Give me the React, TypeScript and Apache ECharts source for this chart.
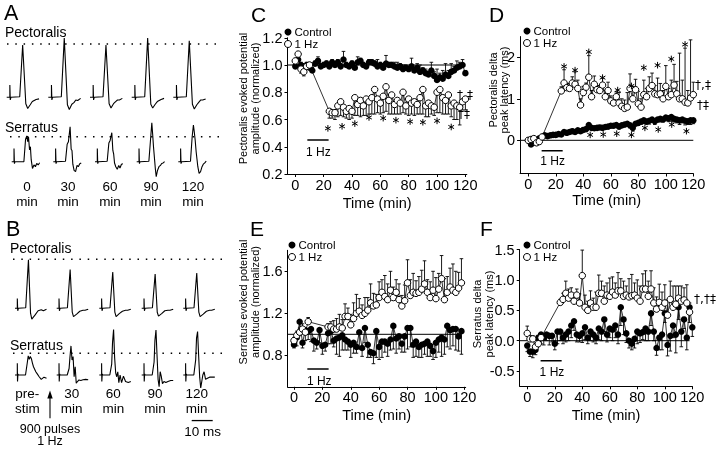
import React, { useEffect, useRef } from "react";
import * as echarts from "echarts";

const FONT = "'Liberation Sans', Arial, Helvetica, sans-serif";
const SYMFONT = "'DejaVu Sans', 'Liberation Sans', sans-serif";

function seq(start: number, end: number, step: number): number[] {
  const out: number[] = [];
  for (let t = start; t <= end + 1e-9; t += step) out.push(Math.round(t * 100) / 100);
  return out;
}

// ---------------- time bases (min) ----------------
const timesFull = seq(0, 120, 2); // 61
const timesE = seq(0, 118, 2); // 60
const timesPre = [0, 2, 4, 6, 8, 10];
const timesPost = seq(24, 120, 2); // 49
const timesPostEF = seq(24, 118, 2); // 48
const xTicks = [0, 20, 40, 60, 80, 100, 120];

// ---------------- panel C: pectoralis amplitude ----------------
const cCtrl = [0.99,1.04,1.00,0.99,1.00,0.98,0.96,1.01,1.03,0.99,1.00,1.01,0.99,1.02,1.00,1.02,0.99,1.04,1.00,0.99,1.01,0.98,1.02,1.03,1.00,0.99,1.02,1.02,1.01,0.99,1.00,0.98,1.01,1.00,1.00,0.99,0.98,0.99,0.97,0.98,0.97,0.99,0.96,0.98,0.95,0.96,0.94,0.93,0.96,0.92,0.89,0.91,0.90,0.93,0.92,0.95,0.96,0.98,0.99,1.00,0.94];
const cCtrlErr = [0.03,0.02,0.02,0.02,0.02,0.02,0.02,0.02,0.03,0.02,0.02,0.02,0.02,0.02,0.02,0.02,0.02,0.06,0.02,0.02,0.02,0.02,0.04,0.02,0.02,0.02,0.02,0.02,0.02,0.05,0.02,0.03,0.06,0.02,0.02,0.03,0.04,0.02,0.03,0.02,0.02,0.06,0.02,0.03,0.05,0.02,0.03,0.02,0.06,0.03,0.08,0.03,0.06,0.08,0.04,0.06,0.03,0.05,0.03,0.04,0.02];
const cHzPre = [1.03,1.08,0.97,0.95,0.99,1.00];
const cHzPreErr = [0.03,0.02,0.03,0.03,0.02,0.02];
const cHzPost = [0.66,0.65,0.65,0.70,0.73,0.69,0.66,0.68,0.66,0.76,0.71,0.74,0.70,0.75,0.73,0.76,0.82,0.75,0.72,0.77,0.84,0.74,0.78,0.71,0.74,0.72,0.80,0.70,0.75,0.72,0.73,0.71,0.76,0.82,0.70,0.72,0.70,0.69,0.80,0.82,0.76,0.74,0.78,0.70,0.72,0.70,0.69,0.73,0.75];
const cHzPostErr = [0.05,0.04,0.05,0.08,0.10,0.07,0.05,0.08,0.05,0.13,0.08,0.12,0.07,0.12,0.09,0.12,0.18,0.10,0.08,0.12,0.18,0.10,0.14,0.07,0.10,0.08,0.15,0.06,0.12,0.08,0.10,0.07,0.12,0.18,0.08,0.10,0.06,0.06,0.15,0.17,0.12,0.10,0.14,0.08,0.12,0.10,0.13,0.06,0.08];
const cStarX = [23,33,42,52,62,71,81,90,100,110];
const cStarY = [0.535,0.55,0.57,0.615,0.61,0.595,0.585,0.58,0.59,0.545];

// ---------------- panel D: pectoralis latency ----------------
const dCtrl = [0.00,-0.10,-0.05,0.02,0.05,0.08,0.12,0.10,0.12,0.13,0.13,0.15,0.14,0.20,0.18,0.20,0.22,0.20,0.24,0.22,0.25,0.27,0.37,0.30,0.29,0.30,0.31,0.30,0.32,0.33,0.35,0.35,0.37,0.33,0.36,0.38,0.40,0.36,0.30,0.40,0.42,0.45,0.48,0.45,0.47,0.50,0.46,0.50,0.52,0.50,0.55,0.53,0.56,0.52,0.50,0.48,0.50,0.47,0.46,0.48,0.48];
const dCtrlErr = [0.03,0.05,0.03,0.03,0.03,0.03,0.03,0.03,0.03,0.03,0.03,0.04,0.03,0.04,0.03,0.04,0.03,0.04,0.04,0.04,0.04,0.04,0.06,0.04,0.04,0.04,0.05,0.04,0.05,0.04,0.05,0.05,0.05,0.05,0.05,0.06,0.05,0.06,0.08,0.05,0.06,0.06,0.08,0.06,0.08,0.06,0.08,0.06,0.08,0.06,0.08,0.08,0.10,0.08,0.08,0.10,0.08,0.10,0.08,0.10,0.08];
const dHzPre = [0.00,0.02,0.04,-0.06,-0.03,0.08];
const dHzPreErr = [0.03,0.03,0.02,0.03,0.02,0.03];
const dHzPost = [1.19,1.38,1.27,1.25,1.38,1.35,1.25,0.85,1.15,1.28,1.52,1.05,1.35,1.22,1.20,1.33,1.05,1.20,0.95,0.90,1.05,0.90,0.82,0.77,0.80,1.25,1.00,1.22,0.88,0.80,1.10,1.05,1.25,1.32,1.12,1.10,1.12,1.00,1.30,1.05,1.10,1.33,1.12,1.00,1.00,0.92,0.90,1.02,1.10];
const dHzPostErr = [0.10,0.32,0.10,0.12,0.15,0.30,0.20,0.15,0.15,0.10,0.52,0.15,0.20,0.10,0.12,0.17,0.15,0.20,0.12,0.10,0.12,0.25,0.18,0.20,0.35,0.35,0.30,0.25,0.30,0.20,0.35,0.20,0.28,0.30,0.20,0.40,0.25,0.20,0.50,0.20,0.35,0.50,0.30,1.10,0.45,1.30,0.30,1.40,0.30];
const dStarHzX = [26,34,44,54,65,75,84,94,104,114];
const dStarHzY = [1.78,1.69,2.13,1.51,1.21,1.31,1.75,1.81,1.96,2.31];
const dStarCtrlX = [45,54.5,64.3,75,84.8,94.5,104.3,115];
const dStarCtrlY = [0.13,0.14,0.16,0.13,0.30,0.26,0.38,0.22];

// ---------------- panel E: serratus amplitude ----------------
const eCtrl = [0.90,0.97,1.12,0.92,1.04,1.03,1.05,0.94,0.92,1.04,0.89,0.90,1.01,1.03,0.94,0.96,0.97,0.99,0.95,0.93,0.90,0.92,0.88,1.02,0.87,1.06,0.90,0.83,0.82,1.03,0.88,0.93,0.93,0.91,0.95,1.08,0.96,0.98,0.91,0.98,1.06,1.06,0.90,0.93,0.88,0.90,0.91,0.93,0.89,0.84,0.92,0.95,0.97,0.95,1.08,1.04,1.05,1.05,0.98,1.03];
const eCtrlErr = [0.03,0.08,0.10,0.05,0.10,0.08,0.12,0.10,0.06,0.12,0.08,0.06,0.10,0.12,0.06,0.15,0.18,0.14,0.10,0.08,0.12,0.10,0.06,0.16,0.08,0.14,0.12,0.05,0.10,0.25,0.12,0.15,0.10,0.12,0.10,0.22,0.14,0.12,0.08,0.15,0.20,0.18,0.12,0.14,0.10,0.12,0.10,0.14,0.10,0.08,0.14,0.12,0.18,0.14,0.20,0.18,0.16,0.20,0.14,0.22];
const eHzPre = [0.94,0.99,1.02,1.05,1.02,1.12];
const eHzPreErr = [0.03,0.04,0.04,0.05,0.03,0.04];
const eHzPost = [1.07,1.07,1.05,1.05,1.07,1.06,1.17,1.17,1.09,1.15,1.20,1.22,1.18,1.20,1.23,1.30,1.27,1.28,1.35,1.40,1.36,1.33,1.42,1.35,1.40,1.33,1.27,1.32,1.49,1.37,1.40,1.39,1.40,1.43,1.48,1.40,1.35,1.42,1.34,1.43,1.53,1.33,1.40,1.45,1.42,1.40,1.44,1.49];
const eHzPostErr = [0.03,0.05,0.08,0.10,0.12,0.08,0.12,0.08,0.10,0.15,0.18,0.12,0.10,0.15,0.12,0.18,0.12,0.10,0.15,0.12,0.20,0.15,0.18,0.10,0.12,0.15,0.10,0.15,0.22,0.15,0.18,0.12,0.15,0.18,0.22,0.12,0.15,0.18,0.20,0.15,0.22,0.20,0.15,0.18,0.25,0.20,0.15,0.23];

// ---------------- panel F: serratus latency ----------------
const fCtrl = [-0.08,-0.18,-0.18,-0.15,0.05,0.10,0.05,0.10,0.08,0.08,-0.05,0.15,0.15,0.05,0.10,0.15,0.25,0.32,0.10,0.08,0.12,0.22,0.05,0.15,0.10,0.05,0.20,0.15,0.35,0.10,0.20,0.18,0.25,0.10,0.55,0.35,0.12,0.00,-0.05,0.03,0.15,0.12,0.14,0.20,0.15,0.45,0.15,-0.12,0.05,0.10,0.45,-0.07,0.08,0.25,0.10,0.55,0.15,0.35,0.05,0.55,0.22];
const fCtrlErr = [0.10,0.08,0.10,0.08,0.10,0.15,0.12,0.10,0.15,0.10,0.10,0.20,0.15,0.10,0.12,0.15,0.20,0.15,0.12,0.10,0.15,0.20,0.10,0.15,0.12,0.10,0.18,0.15,0.20,0.12,0.15,0.18,0.20,0.15,0.30,0.25,0.15,0.12,0.10,0.15,0.20,0.15,0.12,0.20,0.15,0.20,0.15,0.12,0.20,0.25,0.15,0.18,0.25,0.20,0.30,0.20,0.25,0.15,0.20,0.25,0.15];
const fHzPre = [0.12,0.03,0.03,-0.10,-0.05,0.05];
const fHzPreErr = [0.12,0.05,0.05,0.05,0.05,0.05];
const fHzPost = [0.63,0.68,0.78,0.70,0.75,0.65,0.75,0.62,1.07,0.55,0.50,0.62,0.55,0.55,0.78,0.78,0.65,0.75,0.73,0.80,0.75,0.82,0.82,0.73,0.75,0.72,0.74,0.75,0.70,0.65,0.85,0.85,0.73,0.85,0.62,0.52,0.63,0.55,0.62,0.42,0.68,0.55,0.60,0.70,0.65,0.67,0.62,0.47];
const fHzPostErr = [0.05,0.10,0.20,0.15,0.12,0.10,0.10,0.15,0.42,0.20,0.15,0.20,0.15,0.25,0.30,0.20,0.25,0.20,0.30,0.25,0.20,0.30,0.20,0.25,0.15,0.30,0.35,0.20,0.30,0.25,0.25,0.30,0.25,0.30,0.25,0.20,0.30,0.25,0.30,0.25,0.30,0.35,0.30,0.20,0.25,0.20,0.30,0.15];

// ---------------- traces (ms, normalized to pre peak) ----------------
const apT = [0, 1.5, 1.5, 1.7, 2.0, 6.2, 7.6, 9.1, 10.0, 11.2, 12.2, 13.1, 14.0, 15.4];
const ap0 = [0, 0, 0.23, -0.05, 0, 0.01, 0.98, -0.12, -0.21, -0.14, -0.08, -0.06, -0.04, -0.03];
const ap30 = [0, 0, 0.23, -0.05, 0, 0.01, 1.11, -0.14, -0.23, -0.13, -0.1, -0.05, -0.06, -0.02];
const ap60 = [0, 0, 0.23, -0.05, 0, 0.01, 0.98, -0.12, -0.2, -0.12, -0.08, -0.05, -0.05, -0.02];
const ap90 = [0, 0, 0.23, -0.05, 0, 0.01, 1.11, -0.13, -0.2, -0.13, -0.08, -0.06, -0.04, -0.02];
const ap120 = [0, 0, 0.23, -0.05, 0, 0.01, 1.06, -0.13, -0.22, -0.14, -0.09, -0.05, -0.05, -0.03];

const asT = [0, 1.1, 1.1, 1.3, 1.6, 5.8, 6.6, 7.2, 7.6, 8.0, 8.5, 8.9, 9.3, 9.9, 10.6, 11.3, 11.9, 12.6, 13.3];
const as0 = [0, 0, 0.53, -0.08, 0, 0, 0.9, 1.03, 0.8, 1.0, 0.47, 0.6, 0.07, -0.27, -0.13, -0.2, -0.07, -0.13, -0.04];
const as30 = [0, 0, 0.53, -0.08, 0, 0.02, 0.7, 0.8, 1.1, 1.4, 0.5, 0.45, -0.1, -0.35, -0.4, -0.15, -0.2, -0.08, -0.05];
const as60 = [0, 0, 0.53, -0.08, 0, 0.02, 0.75, 0.85, 1.0, 1.16, 0.45, 0.3, -0.05, -0.2, -0.3, -0.15, -0.25, -0.1, -0.08];
const as90 = [0, 0, 0.53, -0.08, 0, 0.02, 0.9, 1.56, 1.1, 0.6, 0.1, -0.3, -0.6, -0.35, -0.2, -0.15, -0.07, -0.05, 0.0];
const as120 = [0, 0, 0.53, -0.08, 0, 0.02, 1.0, 1.47, 1.2, 0.9, 0.4, 0.1, -0.2, -0.47, -0.4, -0.2, -0.1, -0.05, 0.02];

const bpT = [0, 1.1, 1.1, 1.3, 1.6, 5.1, 6.4, 7.4, 8.0, 9.5, 11.0, 12.5, 13.5, 15.0];
const bpPre = [0, 0, 0.2, -0.05, 0, 0.01, 0.99, -0.1, -0.22, -0.14, -0.05, -0.03, -0.05, -0.02];
const bp30 = [0, 0, 0.2, -0.05, 0, 0.01, 0.79, -0.08, -0.17, -0.12, -0.06, -0.04, -0.04, -0.02];
const bp60 = [0, 0, 0.2, -0.05, 0, 0.01, 0.74, -0.08, -0.17, -0.11, -0.06, -0.04, -0.04, -0.02];
const bp90 = [0, 0, 0.2, -0.05, 0, 0.01, 0.7, -0.08, -0.16, -0.11, -0.05, -0.04, -0.04, -0.02];
const bp120 = [0, 0, 0.2, -0.05, 0, 0.01, 0.72, -0.08, -0.17, -0.12, -0.06, -0.04, -0.04, -0.02];

const bsT = [0, 1.1, 1.1, 1.2, 1.4, 1.6, 5.0, 5.9, 6.3, 6.8, 7.3, 7.8, 8.3, 8.8, 9.3, 9.9, 10.6, 11.5, 12.5, 13.8, 15.0];
const bsPre = [0, 0, 0.54, -0.3, 0.05, 0, 0, 0.6, 0.88, 0.72, 0.85, 0.75, 0.55, 0.38, 0.28, 0.15, 0.05, -0.08, -0.2, -0.1, -0.15];
const bs30 = [0, 0, 0.54, -0.3, 0.05, 0, 0, 0.3, 0.8, 1.34, 0.69, 0.85, -0.08, 0.38, -0.38, -0.3, -0.23, -0.25, -0.22, -0.2, -0.22];
const bs60 = [0, 0, 0.54, -0.3, 0.05, 0, 0, 0.5, 1.5, 2.1, 0.8, 0.1, -0.08, 0.15, -0.35, 0.0, -0.35, -0.05, -0.3, -0.35, -0.3];
const bs90 = [0, 0, 0.54, -0.3, 0.05, 0, 0, 0.6, 1.6, 2.07, 0.9, -0.2, -0.54, 0.15, -0.05, -0.4, -0.3, -0.35, -0.3, -0.25, -0.25];
const bs120 = [0, 0, 0.54, -0.3, 0.05, 0, 0, 0.7, 1.7, 2.0, 0.9, -0.1, -0.6, -0.3, 0.0, 0.15, -0.2, -0.15, -0.1, -0.1, -0.1];

const aTop = ["0", "30", "60", "90", "120"];
const aBottom = ["min", "min", "min", "min", "min"];
const bTop = ["pre-", "30", "60", "90", "120"];
const bBottom = ["stim", "min", "min", "min", "min"];

// ---------------- layout ----------------
const PXMS = 2.1; // px per ms in trace panels
const TRACE_W = 225;
const traceGrids = [
  { top: 17.35, height: 106.6, y: [-0.5, 1.5], starts: [6.7, 48.3, 90, 131.7, 173.3], dot: [7, 217] },
  { top: 111.7, height: 75, y: [-1, 2], starts: [11.7, 53.3, 95, 136.7, 178.3], dot: [10, 220] },
  { top: 234.8, height: 98, y: [-0.5, 1.5], starts: [15, 56.7, 99.3, 141.7, 183.3], dot: [13, 223] },
  { top: 320.75, height: 108.5, y: [-2.5, 2.5], starts: [15, 56.7, 99.3, 141.7, 183.3], dot: [13, 225] },
];
const traceSets = [
  { t: apT, v: [ap0, ap30, ap60, ap90, ap120] },
  { t: asT, v: [as0, as30, as60, as90, as120] },
  { t: bpT, v: [bpPre, bp30, bp60, bp90, bp120] },
  { t: bsT, v: [bsPre, bs30, bs60, bs90, bs120] },
];

const chartPanels = [
  { grid: { left: 287.5, top: 37.75, width: 179.3, height: 136.25 }, x: [-5.5, 121], y: [0.2, 1.2], yTicks: [0.2, 0.4, 0.6, 0.8, 1.0, 1.2], dec: 1, nameGap: 21 },
  { grid: { left: 520.05, top: 36.55, width: 173.25, height: 136.95 }, x: [-6, 120], y: [-0.8, 2.5], yTicks: [0, 1, 2], dec: 0, nameGap: 19 },
  { grid: { left: 287.6, top: 250.3, width: 178.1, height: 136.5 }, x: [-4.5, 121], y: [0.5, 1.8], yTicks: [0.8, 1.2, 1.6], dec: 1, nameGap: 21 },
  { grid: { left: 519.7, top: 249.5, width: 172.6, height: 136.8 }, x: [-5.5, 120], y: [-0.75, 1.5], yTicks: [-0.5, 0, 0.5, 1.0, 1.5], dec: 1, nameGap: 21 },
];

function pairs(ts: number[], vs: number[]) {
  return ts.map((t, i) => [t, vs[i]]);
}

function errSeries(idx: number, ts: number[], vs: number[], es: number[], dir: number) {
  return {
    type: "custom",
    xAxisIndex: idx,
    yAxisIndex: idx,
    silent: true,
    z: 2,
    encode: { x: 0, y: 1 },
    data: ts.map((t, i) => [t, vs[i], vs[i] + dir * es[i]]),
    renderItem: (params: any, api: any) => {
      const p0 = api.coord([api.value(0), api.value(1)]);
      const p1 = api.coord([api.value(0), api.value(2)]);
      const st = { stroke: "#000", lineWidth: 0.9, fill: "none" };
      return {
        type: "group",
        children: [
          { type: "line", shape: { x1: p0[0], y1: p0[1], x2: p1[0], y2: p1[1] }, style: st },
          { type: "line", shape: { x1: p1[0] - 1.8, y1: p1[1], x2: p1[0] + 1.8, y2: p1[1] }, style: st },
        ],
      };
    },
  };
}

// significance asterisks, drawn as six-armed stars at data positions
function starSeries(idx: number, xs: number[], ys: number[]) {
  const r = 3.3;
  return {
    type: "custom",
    xAxisIndex: idx,
    yAxisIndex: idx,
    silent: true,
    z: 6,
    encode: { x: 0, y: 1 },
    data: xs.map((x, i) => [x, ys[i]]),
    renderItem: (params: any, api: any) => {
      const p = api.coord([api.value(0), api.value(1)]);
      const st = { stroke: "#000", lineWidth: 1, fill: "none" };
      const arms = [90, 30, 150].map((deg) => {
        const a = (deg * Math.PI) / 180;
        const dx = r * Math.cos(a);
        const dy = r * Math.sin(a);
        return { type: "line", shape: { x1: p[0] - dx, y1: p[1] - dy, x2: p[0] + dx, y2: p[1] + dy }, style: st };
      });
      return { type: "group", children: arms };
    },
  };
}

function textSeries(idx: number, xs: number[], ys: number[], labels: string[], fontSize: number) {
  return {
    type: "custom",
    xAxisIndex: idx,
    yAxisIndex: idx,
    silent: true,
    z: 6,
    encode: { x: 0, y: 1 },
    data: xs.map((x, i) => [x, ys[i]]),
    renderItem: (params: any, api: any) => {
      const p = api.coord([api.value(0), api.value(1)]);
      return {
        type: "text",
        x: p[0],
        y: p[1],
        style: {
          text: labels[params.dataIndex],
          fill: "#000",
          fontSize,
          fontFamily: FONT,
          align: "center",
          verticalAlign: "middle",
          textAlign: "center",
          textVerticalAlign: "middle",
        },
      };
    },
  };
}

function mainSeries(idx: number, ctrlT: number[], ctrl: number[], hzT: number[], hz: number[]) {
  return [
    {
      type: "line",
      name: "Control",
      xAxisIndex: idx,
      yAxisIndex: idx,
      data: pairs(ctrlT, ctrl),
      symbol: "circle",
      symbolSize: 6.5,
      showAllSymbol: true,
      itemStyle: { color: "#000" },
      lineStyle: { color: "#000", width: 0.8 },
      z: 3,
      silent: true,
    },
    {
      type: "line",
      name: "1 Hz",
      xAxisIndex: idx,
      yAxisIndex: idx,
      data: pairs(hzT, hz),
      symbol: "circle",
      symbolSize: 6.5,
      showAllSymbol: true,
      itemStyle: { color: "#fff", borderColor: "#000", borderWidth: 1 },
      lineStyle: { color: "#000", width: 0.8 },
      z: 4,
      silent: true,
    },
  ];
}

function segSeries(idx: number, pts: number[][], width: number, type: any = "solid") {
  return {
    type: "line",
    xAxisIndex: idx,
    yAxisIndex: idx,
    data: pts,
    symbol: "none",
    silent: true,
    clip: false,
    lineStyle: { color: "#000", width, type },
    z: 1,
  };
}

function txt(text: string, x: number, y: number, fontSize: number, align = "left", family = FONT) {
  return {
    type: "text",
    x,
    y,
    silent: true,
    style: {
      text,
      fill: "#000",
      fontSize,
      fontFamily: family,
      textAlign: align,
      align,
      textVerticalAlign: "middle",
      verticalAlign: "middle",
      lineHeight: fontSize,
    },
  };
}

function vtxt(text: string, x: number, y: number, fontSize: number, lineHeight: number) {
  return {
    type: "text",
    x,
    y,
    rotation: Math.PI / 2,
    silent: true,
    style: {
      text,
      fill: "#000",
      fontSize,
      fontFamily: FONT,
      textAlign: "center",
      align: "center",
      textVerticalAlign: "middle",
      verticalAlign: "middle",
      lineHeight,
    },
  };
}

function buildOption() {
  const grids: any[] = [];
  const xAxes: any[] = [];
  const yAxes: any[] = [];
  const series: any[] = [];

  chartPanels.forEach((p, i) => {
    grids.push({ ...p.grid });
    xAxes.push({
      type: "value",
      gridIndex: i,
      min: p.x[0],
      max: p.x[1],
      name: "Time (min)",
      nameLocation: "middle",
      nameGap: p.nameGap,
      nameTextStyle: { fontSize: 14.5, color: "#000", fontFamily: FONT },
      axisLine: { show: true, onZero: false, lineStyle: { color: "#000", width: 1 } },
      axisTick: { show: true, length: 3, customValues: xTicks, lineStyle: { color: "#000" } },
      axisLabel: { customValues: xTicks, fontSize: 14.5, color: "#000", margin: 3, fontFamily: FONT },
      splitLine: { show: false },
    });
    yAxes.push({
      type: "value",
      gridIndex: i,
      min: p.y[0],
      max: p.y[1],
      axisLine: { show: true, onZero: false, lineStyle: { color: "#000", width: 1 } },
      axisTick: { show: true, length: 3, customValues: p.yTicks, lineStyle: { color: "#000" } },
      axisLabel: {
        customValues: p.yTicks,
        fontSize: 14.5,
        color: "#000",
        margin: 5,
        fontFamily: FONT,
        formatter: (v: number) => v.toFixed(p.dec),
      },
      splitLine: { show: false },
    });
  });

  traceGrids.forEach((g, k) => {
    const gi = 4 + k;
    grids.push({ left: 0, top: g.top, width: TRACE_W, height: g.height });
    xAxes.push({ type: "value", gridIndex: gi, min: 0, max: TRACE_W / PXMS, show: false });
    yAxes.push({ type: "value", gridIndex: gi, min: g.y[0], max: g.y[1], show: false });
  });

  // ---- C ----
  series.push(segSeries(0, [[-5.5, 1.0], [115, 1.0]], 1));
  series.push(segSeries(0, [[8.5, 0.45], [23.5, 0.45]], 1.6));
  series.push(errSeries(0, timesFull, cCtrl, cCtrlErr, 1));
  series.push(errSeries(0, timesPre, cHzPre, cHzPreErr, -1));
  series.push(errSeries(0, timesPost, cHzPost, cHzPostErr, -1));
  series.push(...mainSeries(0, timesFull, cCtrl, timesPre.concat(timesPost), cHzPre.concat(cHzPost)));
  series.push(starSeries(0, cStarX, cStarY));
  series.push(textSeries(0, [16.3], [0.364], ["1 Hz"], 12));

  // ---- D ----
  series.push(segSeries(1, [[-6, 0], [120, 0]], 1));
  series.push(segSeries(1, [[9.7, -0.25], [25, -0.25]], 1.6));
  series.push(errSeries(1, timesFull, dCtrl, dCtrlErr, -1));
  series.push(errSeries(1, timesPre, dHzPre, dHzPreErr, 1));
  series.push(errSeries(1, timesPost, dHzPost, dHzPostErr, 1));
  series.push(...mainSeries(1, timesFull, dCtrl, timesPre.concat(timesPost), dHzPre.concat(dHzPost)));
  series.push(starSeries(1, dStarHzX, dStarHzY));
  series.push(starSeries(1, dStarCtrlX, dStarCtrlY));
  series.push(textSeries(1, [17.7], [-0.49], ["1 Hz"], 12));

  // ---- E ----
  series.push(segSeries(2, [[-4.5, 1.0], [115.5, 1.0]], 1));
  series.push(segSeries(2, [[9.4, 0.67], [24.4, 0.67]], 1.6));
  series.push(errSeries(2, timesE, eCtrl, eCtrlErr, -1));
  series.push(errSeries(2, timesPre, eHzPre, eHzPreErr, 1));
  series.push(errSeries(2, timesPostEF, eHzPost, eHzPostErr, 1));
  series.push(...mainSeries(2, timesE, eCtrl, timesPre.concat(timesPostEF), eHzPre.concat(eHzPost)));
  series.push(textSeries(2, [17.8], [0.558], ["1 Hz"], 12));

  // ---- F ----
  series.push(segSeries(3, [[-5.5, 0], [118, 0]], 1));
  series.push(segSeries(3, [[9.7, -0.33], [25, -0.33]], 1.6));
  series.push(errSeries(3, timesFull, fCtrl, fCtrlErr, -1));
  series.push(errSeries(3, timesPre, fHzPre, fHzPreErr, 1));
  series.push(errSeries(3, timesPostEF, fHzPost, fHzPostErr, 1));
  series.push(...mainSeries(3, timesFull, fCtrl, timesPre.concat(timesPostEF), fHzPre.concat(fHzPost)));
  series.push(textSeries(3, [17.96], [-0.51], ["1 Hz"], 12));

  // ---- traces ----
  traceGrids.forEach((g, k) => {
    const gi = 4 + k;
    const set = traceSets[k];
    series.push(segSeries(gi, [[g.dot[0] / PXMS, 1], [g.dot[1] / PXMS, 1]], 1.5, [1.5, 6.8]));
    set.v.forEach((vals, j) => {
      const off = g.starts[j] / PXMS;
      series.push({
        type: "line",
        xAxisIndex: gi,
        yAxisIndex: gi,
        data: set.t.map((t, n) => [off + t, vals[n]]),
        symbol: "none",
        silent: true,
        clip: false,
        lineStyle: { color: "#000", width: 1.1 },
        z: 2,
      });
    });
  });
  // 10 ms scale bar
  series.push(segSeries(7, [[191.7 / PXMS, -2.1], [191.7 / PXMS + 10, -2.1]], 1.3));

  const legendBase = {
    orient: "vertical",
    padding: 0,
    itemWidth: 7,
    itemHeight: 7,
    itemGap: 0,
    selectedMode: false,
    textStyle: { fontSize: 11.5, color: "#000", fontFamily: FONT, lineHeight: 10, padding: [0, 0, 0, -2] },
    data: [
      { name: "Control", icon: "circle", itemStyle: { color: "#000" } },
      { name: "1 Hz", icon: "circle", itemStyle: { color: "#fff", borderColor: "#000", borderWidth: 1 } },
    ],
  };

  const graphics: any[] = [
    txt("A", 4, 12.5, 21.5),
    txt("B", 6, 229, 21.5),
    txt("C", 251, 14.5, 21),
    txt("D", 489, 14.5, 21),
    txt("E", 250, 228.5, 21),
    txt("F", 480, 228.5, 21),
    txt("Pectoralis", 5, 31.5, 14),
    txt("Serratus", 5, 127, 14),
    txt("Pectoralis", 10, 247.5, 14),
    txt("Serratus", 10, 345.3, 14),
    txt("900 pulses", 50, 428.7, 12.5, "center"),
    txt("1 Hz", 50, 441.2, 12.5, "center"),
    txt("10 ms", 202.5, 431.5, 13.5, "center"),
    vtxt("Pectoralis evoked potential\namplitude (normalized)", 249, 98.5, 11, 12),
    vtxt("Pectoralis delta\npeak latency (ms)", 498.5, 90, 11, 11.5),
    vtxt("Serratus evoked potential\namplitude (normalized)", 249, 302, 11, 12),
    vtxt("Serratus delta\npeak latency (ms)", 483, 314, 11, 12),
    txt("†,‡", 465, 95, 12, "center", SYMFONT),
    txt("†‡", 464, 114, 12, "center", SYMFONT),
    txt("†,‡", 703, 85, 12, "center", SYMFONT),
    txt("†‡", 703, 105, 12, "center", SYMFONT),
    txt("†,†‡", 705, 299, 12, "center", SYMFONT),
    {
      type: "line",
      silent: true,
      shape: { x1: 50, y1: 396, x2: 50, y2: 418.3 },
      style: { stroke: "#000", lineWidth: 1.1 },
    },
    {
      type: "polygon",
      silent: true,
      shape: { points: [[50, 390.5], [47.3, 398.5], [52.7, 398.5]] },
      style: { fill: "#000" },
    },
  ];
  const aX = [27, 68, 110, 151, 193];
  aTop.forEach((l, i) => graphics.push(txt(l, aX[i], 186, 13.5, "center")));
  aBottom.forEach((l, i) => graphics.push(txt(l, aX[i], 201, 13.5, "center")));
  const bX = [27.3, 71.7, 113.3, 155, 196.7];
  bTop.forEach((l, i) => graphics.push(txt(l, bX[i], 393.5, 13.5, "center")));
  bBottom.forEach((l, i) => graphics.push(txt(l, bX[i], 408.5, 13.5, "center")));

  return {
    animation: false,
    backgroundColor: "#fff",
    textStyle: { fontFamily: FONT, color: "#000" },
    grid: grids,
    xAxis: xAxes,
    yAxis: yAxes,
    legend: [
      { ...legendBase, left: 284, top: 26 },
      { ...legendBase, left: 523, top: 25 },
      { ...legendBase, left: 288, top: 239 },
      { ...legendBase, left: 523, top: 239 },
    ],
    series,
    graphic: graphics,
  };
}

export default function App() {
  const ref = useRef<HTMLDivElement>(null);
  useEffect(() => {
    document.body.style.margin = "0";
    const chart = echarts.init(ref.current!, null, { renderer: "svg" });
    chart.setOption(buildOption() as any);
    return () => chart.dispose();
  }, []);
  return <div ref={ref} style={{ width: 720, height: 449, background: "#fff", filter: "grayscale(1)" }} />;
}
